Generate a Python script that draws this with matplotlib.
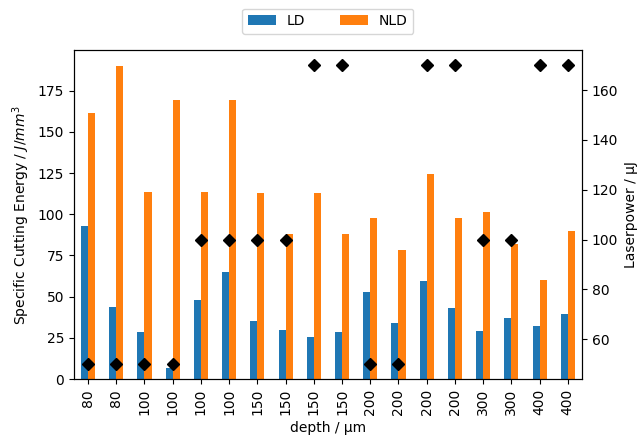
import matplotlib
matplotlib.use("Agg")
import matplotlib.pyplot as plt
import numpy as np

depth = ["80", "80", "100", "100", "100", "100", "150", "150", "150", "150",
         "200", "200", "200", "200", "300", "300", "400", "400"]
ld = [93, 44, 28.4, 6.7, 48.3, 65, 35, 29.6, 25.3, 28.8,
      52.7, 34.1, 59.8, 43, 29.4, 36.9, 32.2, 39.7]
nld = [161.5, 190, 113.5, 169.5, 113.5, 169.5, 113, 88, 113, 88,
       97.5, 78.3, 124.5, 97.5, 101.2, 82, 60.2, 90]
laserpower = [50, 50, 50, 50, 100, 100, 100, 100, 170, 170,
              50, 50, 170, 170, 100, 100, 170, 170]

fig = plt.figure(figsize=(6.43, 4.44), dpi=100)
ax = fig.add_axes([0.115, 0.146, 0.79, 0.741])
x = np.arange(len(depth))
w = 0.25
ax.bar(x - w / 2, ld, width=w, color="tab:blue", label="LD")
ax.bar(x + w / 2, nld, width=w, color="tab:orange", label="NLD")
ax.set_xlim(-0.5, len(depth) - 0.5)
ax.set_ylim(0, max(nld) * 1.05)
ax.set_xticks(x)
ax.set_xticklabels(depth, rotation=90)
ax.set_xlabel("depth / µm")
ax.set_ylabel("Specific Cutting Energy / $J/mm^3$")
ax.legend(loc="lower center", bbox_to_anchor=(0.5, 1.05), ncol=2,
          borderaxespad=0, frameon=True, columnspacing=2.5)

ax2 = ax.twinx()
ax2.plot(x, laserpower, linestyle="none", marker="D", color="black", markersize=6.5)
ax2.set_ylabel("Laserpower / µJ")
ax2.set_xlim(-0.5, len(depth) - 0.5)

fig.savefig("out.png", dpi=100)
